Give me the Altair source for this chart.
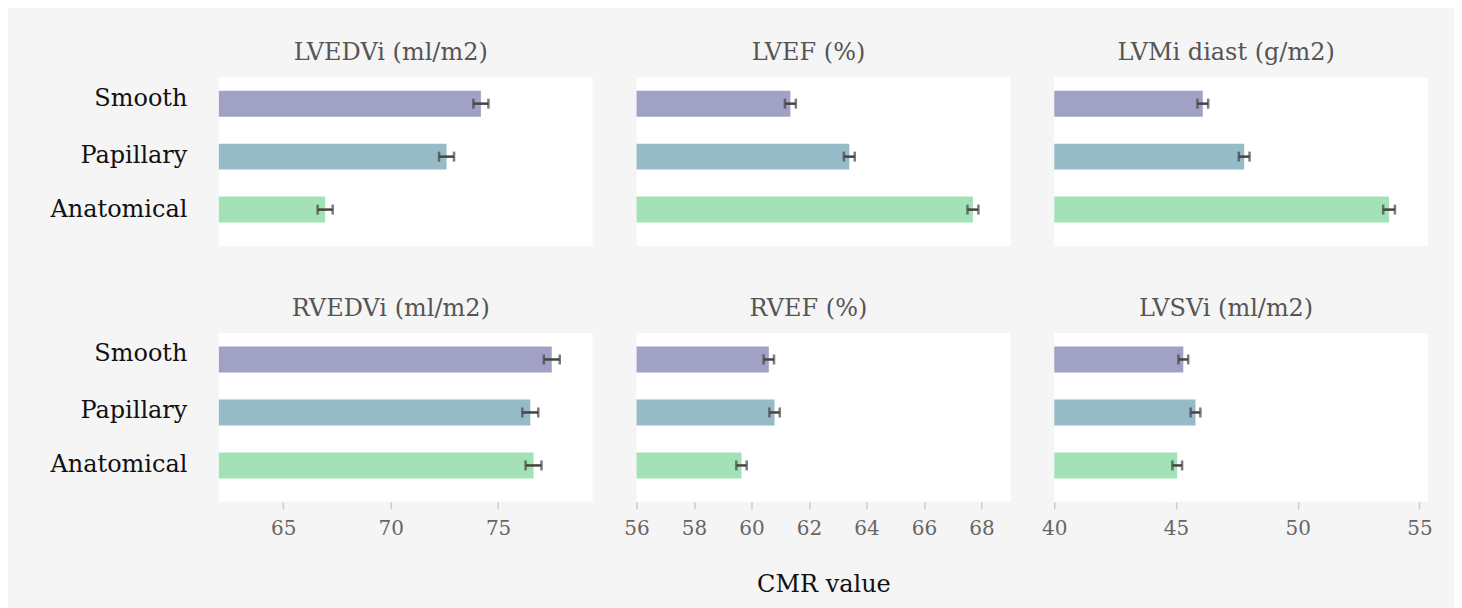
import altair as alt
import pandas as pd

categories = ["Smooth", "Papillary", "Anatomical"]
colors = ["#a1a0c5", "#96bbc7", "#a3e1b6"]

panel_titles = ["LVEDVi (ml/m2)", "LVEF (%)", "LVMi diast (g/m2)",
                "RVEDVi (ml/m2)", "RVEF (%)", "LVSVi (ml/m2)"]

lvedvi = [74.2, 72.6, 66.95]
lvef = [61.35, 63.4, 67.7]
lvmi = [46.1, 47.8, 53.75]
rvedvi = [77.5, 76.5, 76.65]
rvef = [60.6, 60.8, 59.65]
lvsvi = [45.3, 45.8, 45.05]

lvedvi_err = [0.35, 0.35, 0.35]
lvef_err = [0.19, 0.19, 0.19]
lvmi_err = [0.22, 0.22, 0.24]
rvedvi_err = [0.37, 0.37, 0.37]
rvef_err = [0.18, 0.18, 0.18]
lvsvi_err = [0.2, 0.2, 0.2]

values = [lvedvi, lvef, lvmi, rvedvi, rvef, lvsvi]
errors = [lvedvi_err, lvef_err, lvmi_err, rvedvi_err, rvef_err, lvsvi_err]

x_domains = [[62, 79.4], [56, 69], [40, 55.35]]
x_ticks = [[65, 70, 75], [56, 58, 60, 62, 64, 66, 68], [40, 45, 50, 55]]

SERIF = "DejaVu Serif"


def panel(i):
    col = i % 3
    bottom = i >= 3
    dom = x_domains[col]
    df = pd.DataFrame({
        "method": categories,
        "value": values[i],
        "lo": [v - e for v, e in zip(values[i], errors[i])],
        "hi": [v + e for v, e in zip(values[i], errors[i])],
    })
    xscale = alt.Scale(domain=dom, nice=False, zero=False)
    yscale = alt.Scale(domain=categories, paddingInner=0, paddingOuter=0.094, align=0)
    xtitle = "CMR value" if i == 4 else ""
    if bottom:
        xaxis = alt.Axis(values=x_ticks[col], grid=False, domain=False, tickColor="#cccccc",
                         tickWidth=1.5, tickSize=7, labelFontSize=20, labelColor="#666666",
                         labelFont=SERIF, labelPadding=10, labelFlush=False,
                         titleFontSize=24,
                         titleFont=SERIF, titleColor="#111111", titleFontWeight="normal",
                         titlePadding=34)
    else:
        xaxis = None
    if col == 0:
        yaxis = alt.Axis(ticks=False, domain=False, grid=False, labelFontSize=24,
                         labelFont=SERIF, labelColor="#111111", labelPadding=32,
                         labelOffset={"condition": [
                             {"test": "datum.value === 'Smooth'", "value": -5},
                             {"test": "datum.value === 'Papillary'", "value": -1},
                         ], "value": 0})
    else:
        yaxis = None

    base = alt.Chart(df)
    bars = base.mark_bar(size=26).encode(
        x=alt.X("value:Q", scale=xscale, axis=xaxis, title=xtitle),
        x2=alt.X2(datum=dom[0]),
        y=alt.Y("method:N", sort=categories, scale=yscale, axis=yaxis, title=""),
        color=alt.Color("method:N", scale=alt.Scale(domain=categories, range=colors), legend=None),
    )
    rule = base.mark_rule(color="#444444", strokeWidth=2.5).encode(
        x=alt.X("lo:Q", scale=xscale, axis=xaxis, title=xtitle),
        x2="hi:Q",
        y=alt.Y("method:N", sort=categories, scale=yscale, axis=yaxis, title=""),
    )
    caps = base.transform_fold(["lo", "hi"], as_=["edge", "pos"]).mark_tick(
        color="#444444", thickness=2.5, size=10, orient="vertical"
    ).encode(
        x=alt.X("pos:Q", scale=xscale, axis=xaxis, title=xtitle),
        y=alt.Y("method:N", sort=categories, scale=yscale, axis=yaxis, title=""),
    )
    return alt.layer(bars, rule, caps).properties(
        width=374, height=169,
        title=alt.TitleParams(panel_titles[i], fontSize=24, font=SERIF, color="#555555",
                              fontWeight="normal", offset=12, dx=-15),
    )


chart = alt.concat(*[panel(i) for i in range(6)], columns=3,
                   spacing={"row": 87, "column": 44}, bounds="flush").properties(
    background="#f5f5f5",
    padding={"left": 41, "top": 33, "right": 21, "bottom": 36},
).configure_view(fill="white", stroke=None)

chart.save("out.html", embed_options={"renderer": "svg", "actions": False})
